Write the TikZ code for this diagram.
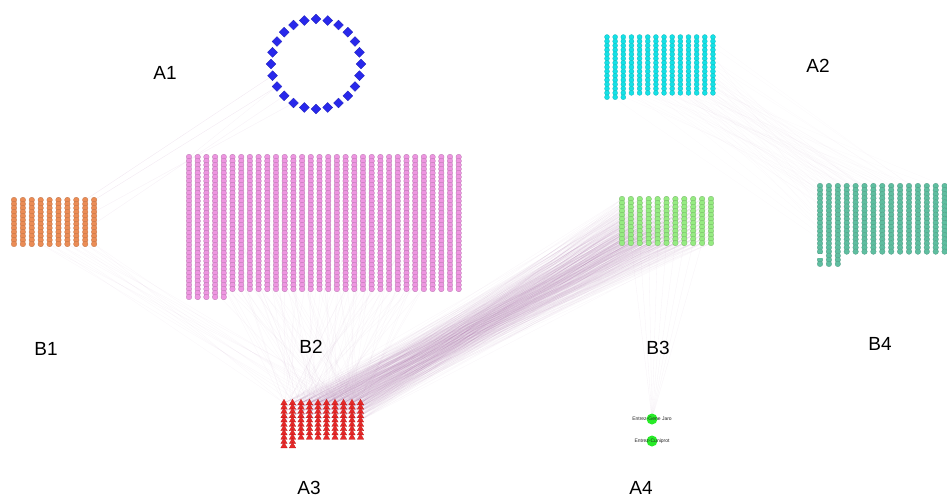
\documentclass[tikz,border=0pt]{standalone}
\usepackage{fontspec}
\setmainfont{Liberation Sans}
\usetikzlibrary{shapes.geometric}
\pgfdeclarelayer{canvas}
\pgfdeclarelayer{edges}
\pgfsetlayers{canvas,edges,main}
\definecolor{ringblue}{RGB}{40,40,235}
\definecolor{gridcyan}{RGB}{20,225,230}
\definecolor{gridorange}{RGB}{235,140,85}
\definecolor{gridpink}{RGB}{238,150,225}
\definecolor{gridlime}{RGB}{150,235,130}
\definecolor{gridteal}{RGB}{95,190,160}
\definecolor{gridred}{RGB}{232,40,40}
\definecolor{dotgreen}{RGB}{40,235,40}
\definecolor{edgepurple}{RGB}{140,50,140}
\tikzset{
  gdot/.style={circle, inner sep=0pt, minimum size=5.6pt, line width=0.25pt},
  pinkdot/.style={gdot, fill=gridpink, draw=gridpink!75!black},
  orangedot/.style={gdot, fill=gridorange, draw=gridorange!80!black},
  cyandot/.style={gdot, minimum size=5pt, fill=gridcyan, draw=gridcyan!80!black},
  limedot/.style={gdot, fill=gridlime, draw=gridlime!75!black},
  tealdot/.style={gdot, fill=gridteal, draw=gridteal!80!black},
  reddot/.style={regular polygon, regular polygon sides=3, inner sep=0pt,
    minimum size=7.5pt, fill=gridred, draw=gridred!80!black, line width=0.25pt},
  ringnode/.style={diamond, inner sep=0pt, minimum size=10pt, fill=ringblue,
    draw=ringblue!80!black, line width=0.3pt},
  bignode/.style={circle, inner sep=0pt, minimum size=11pt, fill=dotgreen},
  tinytext/.style={font=\fontsize{5}{5}\selectfont, text=black!85},
  grouplabel/.style={font=\fontsize{19}{19}\selectfont, text=black},
  link/.style={edgepurple, line width=0.3pt, draw opacity=#1},
  link/.default=0.05,
}
\begin{document}
\begin{tikzpicture}[x=1pt,y=-1pt]
\useasboundingbox (0,0) rectangle (947,499);
\begin{pgfonlayer}{canvas}
  \fill[white] (0,0) rectangle (947,499);
\end{pgfonlayer}

% ring of diamonds
\foreach \k in {0,...,23}
  \node[ringnode] (A1-\k) at ({316+45*cos(\k*15)},{64+45*sin(\k*15)}) {};

% cyan grid
\foreach \c in {1,...,14}{
  \pgfmathtruncatemacro\nr{\c<4 ? 15 : 14}
  \foreach \r in {1,...,\nr}
    \node[cyandot] (A2-\c-\r) at ({607+(\c-1)*8.15},{37+(\r-1)*4.3}) {};
}

% orange grid
\foreach \c in {1,...,10}
  \foreach \r in {1,...,12}
    \node[orangedot] (B1-\c-\r) at ({14+(\c-1)*8.9},{200+(\r-1)*4}) {};

% pink grid
\foreach \c in {1,...,32}{
  \pgfmathtruncatemacro\nr{\c<6 ? 36 : 34}
  \foreach \r in {1,...,\nr}
    \node[pinkdot] (B2-\c-\r) at ({189+(\c-1)*8.7},{157+(\r-1)*4}) {};
}

% light green grid
\foreach \c in {1,...,11}
  \foreach \r in {1,...,12}
    \node[limedot] (B3-\c-\r) at ({622+(\c-1)*8.9},{199+(\r-1)*4}) {};

% teal grid
\foreach \c in {1,...,15}{
  \pgfmathtruncatemacro\nr{\c<4 ? 20 : 17}
  \foreach \r in {1,...,\nr}
    \node[tealdot] (B4-\c-\r) at ({820+(\c-1)*8.9},{186+(\r-1)*4.1}) {};
}
\fill[white] (815,254) rectangle (825,257.5);

% red grid
\foreach \c in {1,...,10}{
  \pgfmathtruncatemacro\nr{\c<3 ? 11 : 9}
  \foreach \r in {1,...,\nr}
    \node[reddot] (A3-\c-\r) at ({284+(\c-1)*8.5},{403+(\r-1)*4.3}) {};
}

% two single nodes
\node[bignode] (A4a) at (652,419) {};
\node[bignode] (A4b) at (652,441) {};
\node[tinytext] (A4a-t) at (652,419) {Entrez-Gene Jaro};
\node[tinytext] (A4b-t) at (652,441) {Entrez-Cuniprot};

% group labels
\node[grouplabel] (lA1) at (165,73) {A1};
\node[grouplabel] (lA2) at (818,66) {A2};
\node[grouplabel] (lB1) at (46,349) {B1};
\node[grouplabel] (lB2) at (311,347) {B2};
\node[grouplabel] (lB3) at (658,348) {B3};
\node[grouplabel] (lB4) at (880,344) {B4};
\node[grouplabel] (lA3) at (309,488) {A3};
\node[grouplabel] (lA4) at (641,488) {A4};

\begin{pgfonlayer}{edges}
  % dense band between the light green grid and the red grid
  \foreach \c in {1,...,11}
    \foreach \r in {1,...,12}
      \foreach \k in {1,...,4}{
        \pgfmathtruncatemacro\ta{mod(3*\c+7*\r+3*\k,10)+1}
        \pgfmathtruncatemacro\tb{mod(5*\c+\r+\k,5)+1}
        \draw[link=0.045] (B3-\c-\r) -- (A3-\ta-\tb);
      }
  % fan from the pink grid down to the red grid
  \foreach \c in {1,...,32}
    \foreach \k in {1,2,3}{
      \pgfmathtruncatemacro\ta{mod(3*\c+4*\k,10)+1}
      \pgfmathtruncatemacro\tb{mod(\c+\k,3)+1}
      \pgfmathtruncatemacro\sr{30-mod(7*\k+\c,20)}
      \draw[link=0.045] (B2-\c-\sr) -- (A3-\ta-\tb);
    }
  % orange grid to red grid
  \foreach \c in {4,...,10}
    \foreach \k in {1,2}{
      \pgfmathtruncatemacro\ta{mod(2*\c+5*\k,10)+1}
      \draw[link=0.04] (B1-\c-12) -- (A3-\ta-1);
    }
  % cyan grid to teal grid
  \foreach \c in {1,...,14}
    \foreach \r in {2,5,...,14}{
      \pgfmathtruncatemacro\ta{mod(3*\c+\r,15)+1}
      \pgfmathtruncatemacro\tb{mod(5*\c+2*\r,17)+1}
      \draw[link=0.025] (A2-\c-\r) -- (B4-\ta-\tb);
    }
  % light green grid to the two single nodes
  \foreach \c in {2,...,10}{
    \draw[link=0.06] (B3-\c-12) -- (A4a);
  }
  % ring to orange grid
  \draw[link=0.12] (A1-10) -- (B1-10-1);
  \draw[link=0.12] (A1-11) -- (B1-9-1);
  \draw[link=0.08] (A1-8) -- (B1-10-4);
  \draw[link=0.08] (A1-9) -- (B1-10-7);
  \draw[link=0.06] (A1-10) -- (B2-1-1);
\end{pgfonlayer}
\end{tikzpicture}
\end{document}
